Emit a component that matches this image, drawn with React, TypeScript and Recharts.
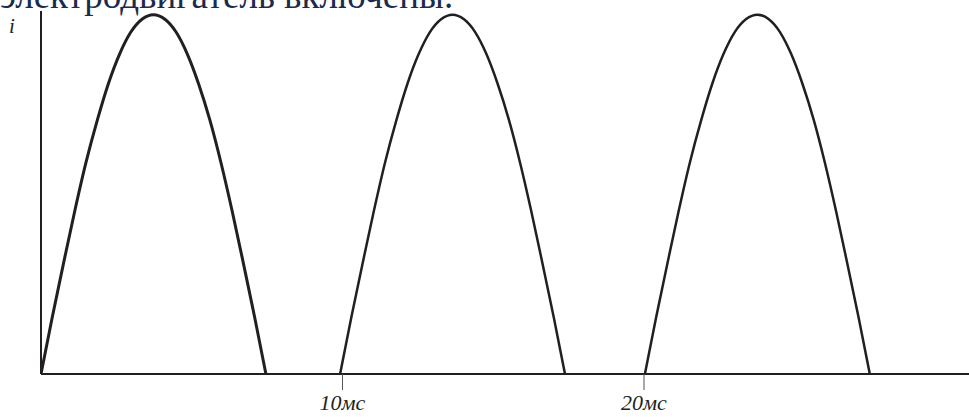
import React from "react";
import { LineChart, Line, XAxis, YAxis } from "recharts";

// Half-wave current pulses (time in ms, current in relative units 0..100)
const arc1T = [0, 0.37, 0.75, 1.12, 1.49, 1.87, 2.24, 2.61, 2.98, 3.36, 3.73, 4.1, 4.48, 4.85, 5.22, 5.6, 5.97, 6.34, 6.71, 7.09, 7.46];
const arc2T = [9.92, 10.29, 10.67, 11.04, 11.41, 11.79, 12.16, 12.53, 12.9, 13.28, 13.65, 14.02, 14.4, 14.77, 15.14, 15.52, 15.89, 16.26, 16.63, 17.01, 17.38];
const arc3T = [20.03, 20.4, 20.78, 21.15, 21.52, 21.9, 22.27, 22.64, 23.01, 23.39, 23.76, 24.13, 24.51, 24.88, 25.25, 25.63, 26.0, 26.37, 26.74, 27.12, 27.49];
const arcI = [0, 15.5, 30.6, 44.9, 58.2, 70.0, 80.1, 88.2, 94.2, 97.8, 99.0, 97.8, 94.2, 88.2, 80.1, 70.0, 58.2, 44.9, 30.6, 15.5, 0];

const xTicks = [10, 20];
const xTickLabels: Record<number, string> = { 10: "10мс", 20: "20мс" };
const yLabel = "i";
const headerText = "электродвигатель включены.";

const build = (ts: number[]) => ts.map((t, k) => ({ t, i: arcI[k] }));
const arc1 = build(arc1T);
const arc2 = build(arc2T);
const arc3 = build(arc3T);

const INK = "#231f20";
const SERIF = "'Liberation Serif', 'DejaVu Serif', serif";

const TickLabel = (props: any) => {
  const { x, y, payload } = props;
  return (
    <text
      x={x}
      y={y + 18}
      textAnchor="middle"
      fontFamily={SERIF}
      fontStyle="italic"
      fontSize={22}
      fill={INK}
    >
      {xTickLabels[payload.value]}
    </text>
  );
};

export default function App() {
  return (
    <div style={{ position: "absolute", left: 0, top: 0, width: 969, height: 417, background: "#fff" }}>
      <LineChart
        width={969}
        height={417}
        margin={{ top: 11, right: 0, bottom: 0, left: 0 }}
      >
        <XAxis
          type="number"
          dataKey="t"
          domain={[0, 30.78]}
          ticks={xTicks}
          allowDataOverflow
          height={43}
          axisLine={{ stroke: INK, strokeWidth: 2 }}
          tickLine={{ stroke: "#555", strokeWidth: 1 }}
          tickSize={16}
          tick={<TickLabel />}
          interval={0}
        />
        <YAxis
          type="number"
          dataKey="i"
          domain={[0, 100]}
          width={41}
          tick={false}
          tickLine={false}
          axisLine={{ stroke: INK, strokeWidth: 2 }}
        />
        <Line data={arc1} dataKey="i" type="monotone" stroke={INK} strokeWidth={3} dot={false} isAnimationActive={false} />
        <Line data={arc2} dataKey="i" type="monotone" stroke={INK} strokeWidth={2.5} dot={false} isAnimationActive={false} />
        <Line data={arc3} dataKey="i" type="monotone" stroke={INK} strokeWidth={2.5} dot={false} isAnimationActive={false} />
      </LineChart>
      <svg
        width={969}
        height={417}
        style={{ position: "absolute", left: 0, top: 0, pointerEvents: "none" }}
      >
        <text x={0} y={8} fontFamily={SERIF} fontSize={37} fill="#1c2b4b">
          {headerText}
        </text>
        <text
          x={12}
          y={33}
          textAnchor="middle"
          fontFamily={SERIF}
          fontStyle="italic"
          fontSize={21}
          fill={INK}
        >
          {yLabel}
        </text>
      </svg>
    </div>
  );
}
